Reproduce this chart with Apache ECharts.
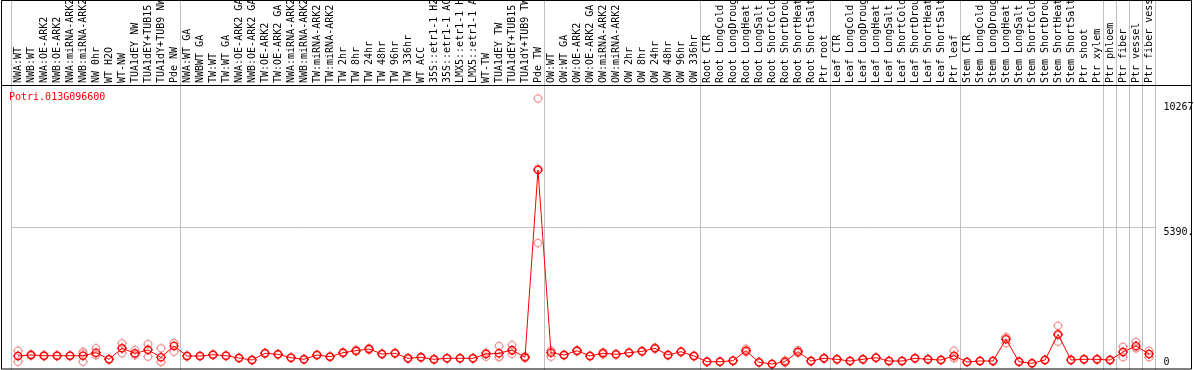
<!DOCTYPE html>
<html>
<head>
<meta charset="utf-8">
<script src="https://cdn.jsdelivr.net/npm/echarts@6/dist/echarts.min.js"></script>
<style>
html,body{margin:0;padding:0;background:#fff;}
#chart{width:1194px;height:370px;}
</style>
</head>
<body>
<div id="chart"></div>
<script>
const geneName = 'Potri.013G096600';
const categories = [
 'NWA:WT','NWB:WT','NWA:OE-ARK2','NWB:OE-ARK2','NWA:miRNA-ARK2','NWB:miRNA-ARK2','NW 0hr','WT H2O','WT-NW','TUA1dEY NW','TUA1dEY+TUB15 NW','TUA1dY+TUB9 NW','Pde NW',
 'NWA:WT GA','NWBWT GA','TW:WT','TW:WT GA','NWA:OE-ARK2 GA','NWB:OE-ARK2 GA','TW:OE-ARK2','TW:OE-ARK2 GA','NWA:miRNA-ARK2','NWB:miRNA-ARK2','TW:miRNA-ARK2','TW:miRNA-ARK2',
 'TW 2hr','TW 8hr','TW 24hr','TW 48hr','TW 96hr','TW 336hr','WT ACC','35S::etr1-1 H2O','35S::etr1-1 ACC','LMX5::etr1-1 H2O','LMX5::etr1-1 ACC','WT-TW','TUA1dEY TW','TUA1dEY+TUB15 TW','TUA1dY+TUB9 TW','Pde TW',
 'OW:WT','OW:WT GA','OW:OE-ARK2','OW:OE-ARK2 GA','OW:miRNA-ARK2','OW:miRNA-ARK2','OW 2hr','OW 8hr','OW 24hr','OW 48hr','OW 96hr','OW 336hr',
 'Root CTR','Root LongCold','Root LongDrought','Root LongHeat','Root LongSalt','Root ShortCold','Root ShortDrought','Root ShortHeat','Root ShortSalt','Ptr root',
 'Leaf CTR','Leaf LongCold','Leaf LongDrought','Leaf LongHeat','Leaf LongSalt','Leaf ShortCold','Leaf ShortDrought','Leaf ShortHeat','Leaf ShortSalt','Ptr leaf',
 'Stem CTR','Stem LongCold','Stem LongDrought','Stem LongHeat','Stem LongSalt','Stem ShortCold','Stem ShortDrought','Stem ShortHeat','Stem ShortSalt','Ptr shoot','Ptr xylem',
 'Ptr phloem','Ptr fiber','Ptr vessel','Ptr fiber vessel'
];
const groupStarts = [0, 13, 41, 53, 63, 73, 84, 85, 86, 87];
const meanValues = [
 529,567,541,541,541,541,654,405,821,632,756,480,908,
 529,529,579,541,454,378,632,594,465,405,567,503,
 654,730,794,605,632,442,480,405,442,442,442,605,632,756,480,7564,
 654,567,730,529,632,594,654,707,821,567,692,529,
 314,314,352,730,291,227,314,692,340,442,
 405,340,405,465,340,340,442,405,378,541,
 303,340,340,1161,314,253,378,1350,378,405,405,
 378,681,908,605
];
const rep1 = [
 730,600,565,560,555,620,821,420,1010,756,983,821,692,
 545,540,600,555,470,395,650,610,480,420,585,520,
 680,770,830,620,650,460,500,420,455,455,455,503,908,946,450,10267,
 503,585,760,545,680,610,670,725,850,585,710,545,
 330,330,370,800,305,240,360,760,355,460,
 420,355,420,480,355,355,460,420,395,730,
 315,355,355,1010,330,265,395,1675,395,420,420,
 395,881,1070,730
];
const rep2 = [
 314,540,520,525,530,314,570,390,632,570,503,314,1016,
 515,520,560,530,440,365,615,580,450,390,550,490,
 630,700,760,590,615,425,465,390,430,430,430,656,503,605,520,4803,
 730,550,700,515,590,580,640,690,795,550,675,515,
 300,300,335,680,280,215,270,640,325,425,
 390,325,390,450,325,325,425,390,365,450,
 290,325,325,1240,300,240,365,1070,365,390,390,
 365,480,827,480
];
const rep3 = [
 543,561,538,538,538,689,571,405,821,570,782,305,1016,
 527,527,577,538,452,374,631,592,465,405,566,499,
 652,720,792,605,631,441,475,405,441,441,441,656,485,717,470,7622,
 729,566,730,527,626,592,652,706,818,566,691,527,
 312,312,351,710,288,226,312,676,340,441,
 405,340,405,465,340,340,441,405,374,443,
 304,340,340,1233,312,254,374,1305,374,405,405,
 374,682,827,605
];
const yAxisMax = 10780;
const yTickValues = [0, 5390, 10780];
const yTickLabels = ['0', '5390.', '10267'];

const markerPath = 'path://M5.5,1.5A4,4,0,1,1,5.49,1.5ZM5.5,0L5.5,1.5M5.5,9.5L5.5,11M0,5.5L1.5,5.5M9.5,5.5L11,5.5';
const MONO = 'DejaVu Sans Mono';

const repData = [];
[rep1, rep2, rep3].forEach(function (arr) {
  arr.forEach(function (v, i) { repData.push([i, v]); });
});

const splitInterval = function (index) { return groupStarts.indexOf(index) >= 0; };

const chart = echarts.init(document.getElementById('chart'), null, {renderer: 'canvas'});
chart.setOption({
  animation: false,
  backgroundColor: '#ffffff',
  title: {
    text: geneName, left: 9, top: 92, padding: 0,
    textStyle: {color: '#ff0000', fontSize: 10, fontWeight: 'normal', fontFamily: MONO}
  },
  grid: [
    {left: 11.5, width: 1144, top: 85, height: 285, containLabel: false, outerBoundsMode: 'none'},
    {left: 11.5, width: 1144, top: 0, height: 85, containLabel: false, outerBoundsMode: 'none'}
  ],
  xAxis: [
    {
      type: 'category', gridIndex: 0, data: categories, position: 'top', boundaryGap: true,
      axisLine: {show: false}, axisTick: {show: false},
      axisLabel: {interval: 0, rotate: 90, margin: 2, color: '#000', fontSize: 10, fontFamily: MONO, hideOverlap: false},
      splitLine: {show: true, interval: splitInterval, lineStyle: {color: '#c0c0c0', width: 1}}
    },
    {
      type: 'category', gridIndex: 1, data: categories, boundaryGap: true,
      axisLine: {show: false}, axisTick: {show: false}, axisLabel: {show: false},
      splitLine: {show: true, interval: splitInterval, lineStyle: {color: '#c0c0c0', width: 1}}
    }
  ],
  yAxis: [
    {
      type: 'value', gridIndex: 0, position: 'right', min: 0, max: yAxisMax, interval: 5390,
      axisLine: {show: false}, axisTick: {show: false},
      splitLine: {show: true, lineStyle: {color: '#c0c0c0', width: 1}},
      axisLabel: {
        show: true, showMinLabel: true, showMaxLabel: true, margin: 8, align: 'left',
        color: '#000', fontSize: 10, fontFamily: MONO,
        formatter: function (v) {
          const k = yTickValues.indexOf(Math.round(v));
          if (k === 0) return '{b|' + yTickLabels[0] + '}';
          if (k === 1) return '{m|' + yTickLabels[1] + '}';
          if (k === 2) return '{t|' + yTickLabels[2] + '}';
          return '';
        },
        rich: {
          b: {fontSize: 10, fontFamily: MONO, color: '#000', padding: [0, 0, 15, 0]},
          m: {fontSize: 10, fontFamily: MONO, color: '#000', padding: [10, 0, 0, 0]},
          t: {fontSize: 10, fontFamily: MONO, color: '#000', padding: [44, 0, 0, 0]}
        }
      }
    },
    {type: 'value', gridIndex: 1, show: false, splitLine: {show: false}}
  ],
  series: [
    {
      name: 'replicates', type: 'scatter', xAxisIndex: 0, yAxisIndex: 0, data: repData,
      symbol: markerPath, symbolSize: 10, z: 2,
      itemStyle: {color: 'rgba(0,0,0,0)', borderColor: '#f29a9a', borderWidth: 1.2, opacity: 1}
    },
    {
      name: 'mean', type: 'line', xAxisIndex: 0, yAxisIndex: 0, data: meanValues,
      symbol: markerPath, symbolSize: 10, showAllSymbol: true, z: 3,
      lineStyle: {color: '#ff0000', width: 1},
      itemStyle: {color: 'rgba(0,0,0,0)', borderColor: '#ff0000', borderWidth: 1.2}
    }
  ],
  graphic: [
    {type: 'rect', shape: {x: 1.5, y: 0.5, width: 1190, height: 368.5}, style: {fill: 'none', stroke: '#000', lineWidth: 1}, z: 100, silent: true},
    {type: 'line', shape: {x1: 1, y1: 85.5, x2: 1192, y2: 85.5}, style: {stroke: '#000', lineWidth: 1}, z: 100, silent: true}
  ]
});
</script>
</body>
</html>
